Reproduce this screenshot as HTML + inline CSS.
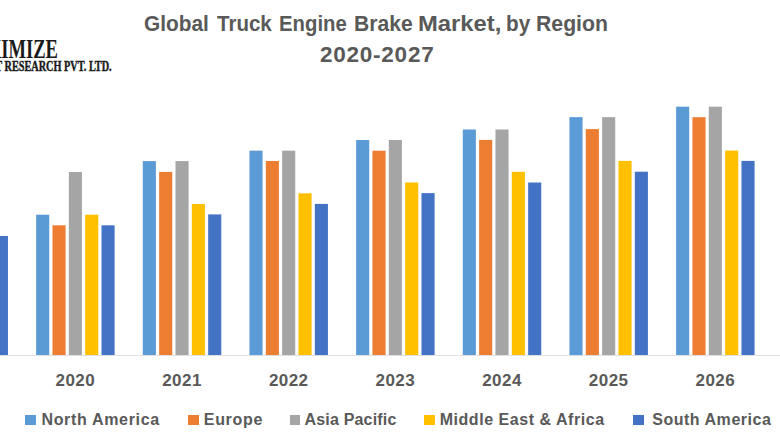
<!DOCTYPE html>
<html><head><meta charset="utf-8"><style>
html,body{margin:0;padding:0;background:#fff;}
body{width:780px;height:440px;position:relative;overflow:hidden;font-family:"Liberation Sans",sans-serif;}
svg{position:absolute;left:0;top:0;}
.title{position:absolute;text-align:center;color:#595959;font-weight:bold;white-space:nowrap;}
.yr{position:absolute;top:371.2px;width:80px;text-align:center;color:#595959;font-weight:bold;font-size:17px;line-height:20px;letter-spacing:0.45px;}
.sq{position:absolute;width:10.5px;height:10.5px;top:414.5px;}
.lt{position:absolute;color:#595959;font-weight:bold;font-size:16px;line-height:20px;white-space:nowrap;top:410px;}
.tw{transform-origin:0 0;}
.logo{position:absolute;font-family:"Liberation Serif",serif;font-weight:bold;color:#1a1a1a;white-space:nowrap;transform-origin:0 0;line-height:1;}
</style></head><body>
<svg width="780" height="440" viewBox="0 0 780 440">
<line x1="0" y1="355.5" x2="780" y2="355.5" stroke="#e0e0e0" stroke-width="1"/>
<rect x="-5.15" y="236.00" width="13.1" height="119.00" fill="#4472C4"/>
<rect x="36.15" y="214.70" width="13.1" height="140.30" fill="#5B9BD5"/>
<rect x="52.49" y="225.30" width="13.1" height="129.70" fill="#ED7D31"/>
<rect x="68.83" y="172.00" width="13.1" height="183.00" fill="#A5A5A5"/>
<rect x="85.17" y="214.70" width="13.1" height="140.30" fill="#FFC000"/>
<rect x="101.51" y="225.30" width="13.1" height="129.70" fill="#4472C4"/>
<rect x="142.81" y="161.10" width="13.1" height="193.90" fill="#5B9BD5"/>
<rect x="159.15" y="171.90" width="13.1" height="183.10" fill="#ED7D31"/>
<rect x="175.49" y="161.10" width="13.1" height="193.90" fill="#A5A5A5"/>
<rect x="191.83" y="204.00" width="13.1" height="151.00" fill="#FFC000"/>
<rect x="208.17" y="214.40" width="13.1" height="140.60" fill="#4472C4"/>
<rect x="249.47" y="150.65" width="13.1" height="204.35" fill="#5B9BD5"/>
<rect x="265.81" y="161.00" width="13.1" height="194.00" fill="#ED7D31"/>
<rect x="282.15" y="150.65" width="13.1" height="204.35" fill="#A5A5A5"/>
<rect x="298.49" y="193.30" width="13.1" height="161.70" fill="#FFC000"/>
<rect x="314.83" y="203.90" width="13.1" height="151.10" fill="#4472C4"/>
<rect x="356.13" y="140.00" width="13.1" height="215.00" fill="#5B9BD5"/>
<rect x="372.47" y="150.70" width="13.1" height="204.30" fill="#ED7D31"/>
<rect x="388.81" y="140.00" width="13.1" height="215.00" fill="#A5A5A5"/>
<rect x="405.15" y="182.50" width="13.1" height="172.50" fill="#FFC000"/>
<rect x="421.49" y="193.10" width="13.1" height="161.90" fill="#4472C4"/>
<rect x="462.79" y="129.50" width="13.1" height="225.50" fill="#5B9BD5"/>
<rect x="479.13" y="139.90" width="13.1" height="215.10" fill="#ED7D31"/>
<rect x="495.47" y="129.50" width="13.1" height="225.50" fill="#A5A5A5"/>
<rect x="511.81" y="171.80" width="13.1" height="183.20" fill="#FFC000"/>
<rect x="528.15" y="182.50" width="13.1" height="172.50" fill="#4472C4"/>
<rect x="569.45" y="117.15" width="13.1" height="237.85" fill="#5B9BD5"/>
<rect x="585.79" y="129.10" width="13.1" height="225.90" fill="#ED7D31"/>
<rect x="602.13" y="117.15" width="13.1" height="237.85" fill="#A5A5A5"/>
<rect x="618.47" y="160.90" width="13.1" height="194.10" fill="#FFC000"/>
<rect x="634.81" y="171.70" width="13.1" height="183.30" fill="#4472C4"/>
<rect x="676.11" y="106.70" width="13.1" height="248.30" fill="#5B9BD5"/>
<rect x="692.45" y="117.20" width="13.1" height="237.80" fill="#ED7D31"/>
<rect x="708.79" y="106.70" width="13.1" height="248.30" fill="#A5A5A5"/>
<rect x="725.13" y="150.60" width="13.1" height="204.40" fill="#FFC000"/>
<rect x="741.47" y="160.90" width="13.1" height="194.10" fill="#4472C4"/>
</svg>
<div class="title tw" style="left:144.04px;top:11px;font-size:21.5px;line-height:26px;transform:scaleX(0.969)">Global</div>
<div class="title tw" style="left:216.9px;top:11px;font-size:21.5px;line-height:26px;transform:scaleX(0.9552)">Truck</div>
<div class="title tw" style="left:279.05px;top:11px;font-size:21.5px;line-height:26px;transform:scaleX(0.9457)">Engine</div>
<div class="title tw" style="left:354.42px;top:11px;font-size:21.5px;line-height:26px;transform:scaleX(0.981)">Brake</div>
<div class="title tw" style="left:418.09px;top:11px;font-size:21.5px;line-height:26px;transform:scaleX(1.1068)">Market,</div>
<div class="title tw" style="left:505.94px;top:11px;font-size:21.5px;line-height:26px;transform:scaleX(0.9625)">by</div>
<div class="title tw" style="left:535.91px;top:11px;font-size:21.5px;line-height:26px;transform:scaleX(0.9873)">Region</div>
<div class="title" style="left:320px;top:42px;font-size:22.5px;line-height:26px;letter-spacing:0.76px">2020-2027</div>
<div class="logo" style="left:-43.2px;top:35.5px;font-size:26.5px;transform:scaleX(0.7)">MAXIMIZE</div>
<div class="logo" style="left:-44.4px;top:59px;font-size:14.3px;transform:scaleX(0.717);-webkit-text-stroke:0.45px #1a1a1a">MARKET RESEARCH PVT. LTD.</div>
<div class="yr" style="left:35.38px">2020</div>
<div class="yr" style="left:142.04px">2021</div>
<div class="yr" style="left:248.70px">2022</div>
<div class="yr" style="left:355.36px">2023</div>
<div class="yr" style="left:462.02px">2024</div>
<div class="yr" style="left:568.68px">2025</div>
<div class="yr" style="left:675.34px">2026</div>
<div class="sq" style="left:25.3px;background:#5B9BD5"></div><div class="lt" style="left:41.4px;letter-spacing:0.68px">North America</div>
<div class="sq" style="left:188.2px;background:#ED7D31"></div><div class="lt" style="left:203.8px;letter-spacing:0.68px">Europe</div>
<div class="sq" style="left:289.5px;background:#A5A5A5"></div><div class="lt" style="left:304.5px;letter-spacing:0.18px">Asia Pacific</div>
<div class="sq" style="left:424.2px;background:#FFC000"></div><div class="lt" style="left:439.7px;letter-spacing:0.54px">Middle East &amp; Africa</div>
<div class="sq" style="left:633.4px;background:#4472C4"></div><div class="lt" style="left:652.2px;letter-spacing:0.53px">South America</div>
</body></html>
